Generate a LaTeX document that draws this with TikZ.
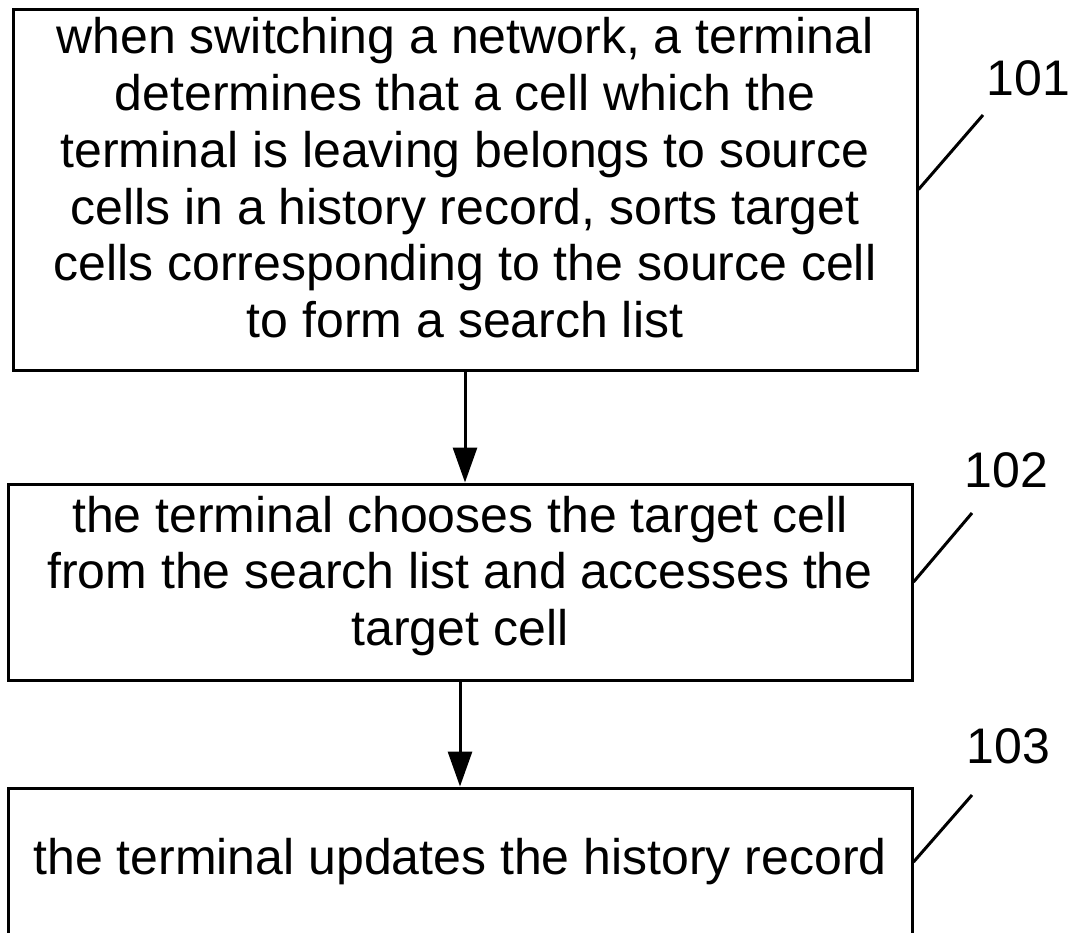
\documentclass[tikz,border=0pt]{standalone}
\usepackage{fontspec}
\setmainfont{Liberation Sans}
\usetikzlibrary{arrows.meta}
\newcommand\deeper[1]{\rule[-#1]{0pt}{#1}}

\begin{document}
\begin{tikzpicture}[x=0.5pt, y=-0.5pt,
	box/.style={draw, line width=1.5pt, minimum width=452pt, inner sep=0pt, align=center, font=\fontsize{25}{28.4}\selectfont},
	tag/.style={anchor=base west, inner sep=0pt, font=\fontsize{25}{28.4}\selectfont},
	lead/.style={line width=1.5pt},
	flow/.style={line width=1.5pt, -{Triangle[length=17.5pt, width=12pt]}}]
			%%%%% START %%%%%
			
			\useasboundingbox (0, 0) rectangle (1070, 932);
			\clip (0, 0) rectangle (1070, 932);
			
			\node[box, minimum height=180.5pt] (b101) at (465, 189.5) {when switching a network, a terminal\\determines that a cell which the\\terminal is leaving belongs to source\\cells in a history record, sorts target\\cells corresponding to the source cell\\to form a search list\deeper{12pt}};
			\node[box, minimum height=98pt] (b102) at (460, 582) {the terminal chooses the target cell\\from the search list and accesses the\\target cell\deeper{11.25pt}};
			\node[box, minimum height=74pt] (b103) at (460, 862) {the terminal updates the history record};
			
			\draw[flow] (b101.south) -- (b101.south |- b102.north);
			\draw[flow] (b102.south) -- (b103.north);
			
			\node[tag] (n101) at (986.5, 95) {101};
			\node[tag] (n102) at (964.5, 487) {102};
			\node[tag] (n103) at (966, 763) {103};
			
			\coordinate (e101) at (983, 115);
			\coordinate (e102) at (972, 513);
			\coordinate (e103) at (972, 795);
			\draw[lead] (b101.east) -- (e101);
			\draw[lead] (b102.east) -- (e102);
			\draw[lead] (b103.east) -- (e103);
			
			%%%%% END %%%%%
		\end{tikzpicture}
\end{document}
